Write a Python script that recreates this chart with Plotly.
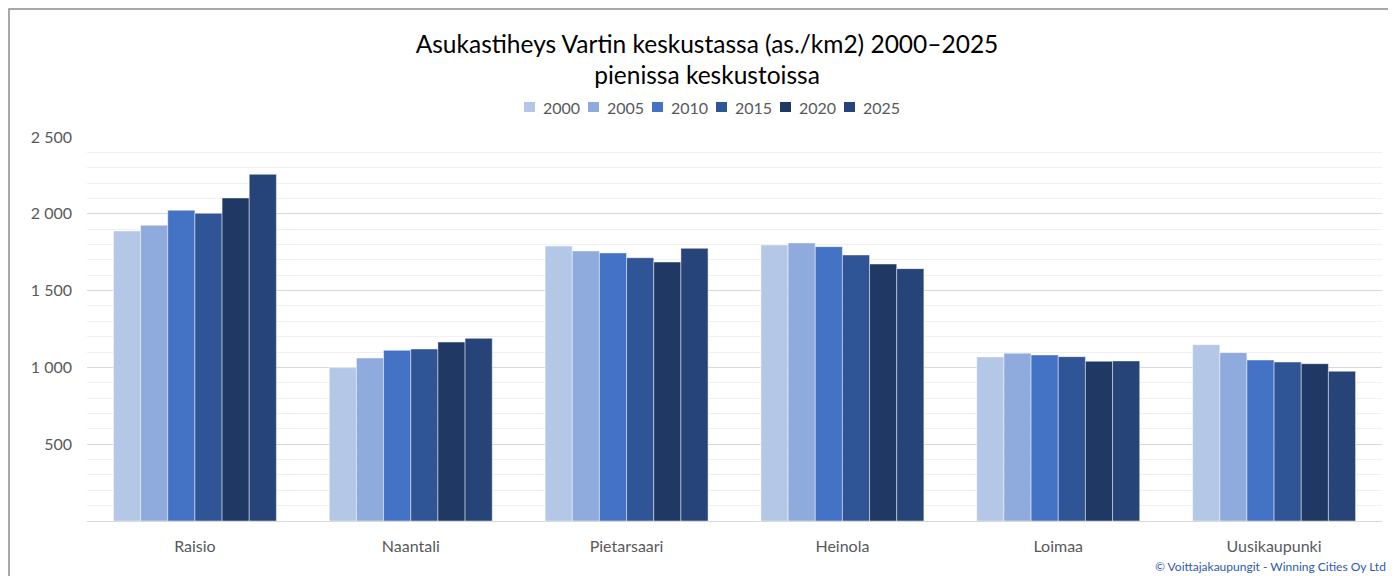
import plotly.graph_objects as go

categories = ["Raisio", "Naantali", "Pietarsaari", "Heinola", "Loimaa", "Uusikaupunki"]
years = ["2000", "2005", "2010", "2015", "2020", "2025"]
values = {
    "2000": [1888, 998, 1790, 1797, 1068, 1148],
    "2005": [1925, 1061, 1758, 1810, 1092, 1096],
    "2010": [2023, 1111, 1745, 1786, 1081, 1048],
    "2015": [2003, 1120, 1714, 1732, 1070, 1035],
    "2020": [2103, 1165, 1686, 1673, 1040, 1024],
    "2025": [2257, 1189, 1775, 1643, 1042, 975],
}
colors = ["#B4C7E7", "#8FAADC", "#4472C4", "#2F5597", "#203864", "#264478"]

FONT = "Lato"

# page body has an 8px margin; figure coordinates below are relative to figure origin
OFF = 8
W, H = 1396 - OFF, 576 - OFF
L, R, T, B = 79, 14, 129, 55
pw = W - L - R
ph = H - T - B


def px_x(x):
    return (x - OFF - L) / pw


def px_y(y):
    return 1 + (T - (y - OFF)) / ph


fig = go.Figure()
for y, c in zip(years, colors):
    fig.add_trace(go.Bar(
        x=categories, y=values[y], name=y, showlegend=False,
        marker=dict(color=c, line=dict(color="rgba(255,255,255,0.45)", width=1)),
    ))

fig.update_layout(
    width=W, height=H,
    margin=dict(l=L, r=R, t=T, b=B),
    paper_bgcolor="white", plot_bgcolor="white",
    barmode="group", bargap=0.245, bargroupgap=0,
    separators=", ",
    font=dict(family=FONT, color="#595959", size=16),
    title=dict(
        text="Asukastiheys Vartin keskustassa (as./km2) 2000–2025<br>pienissa keskustoissa",
        x=px_x(707), xref="paper", xanchor="center",
        y=1 - (52.5 - OFF) / H, yanchor="middle",
        font=dict(family=FONT, size=24.5, color="#000000"),
    ),
    xaxis=dict(
        showline=True, linecolor="#D9D9D9", linewidth=1,
        ticks="", tickfont=dict(family=FONT, size=16, color="#595959"),
        ticklabelstandoff=11,
        fixedrange=True,
    ),
    yaxis=dict(
        range=[0, 2500], tickvals=[500, 1000, 1500, 2000, 2500], tickformat=",d",
        showgrid=True, gridcolor="#D9D9D9", gridwidth=1,
        zeroline=False, showline=False,
        ticks="", tickfont=dict(family=FONT, size=16, color="#595959"),
        ticklabelstandoff=14,
        minor=dict(dtick=100, showgrid=True, gridcolor="#F0F0F0", gridwidth=1),
    ),
)

# custom legend matching the reference spacing
for i, (yr, c) in enumerate(zip(years, colors)):
    sx = 524 + 64 * i
    fig.add_shape(
        type="rect", xref="paper", yref="paper",
        x0=px_x(sx), x1=px_x(sx + 11), y0=px_y(112), y1=px_y(102),
        line=dict(width=0), fillcolor=c,
    )
    fig.add_annotation(
        text=yr, xref="paper", yref="paper",
        x=px_x(sx + 17), xanchor="left", y=px_y(107), yanchor="middle",
        showarrow=False, font=dict(family=FONT, size=16, color="#595959"),
    )

# outer frame (partially visible at left and top)
fig.add_shape(
    type="rect", xref="paper", yref="paper",
    x0=px_x(9), x1=1.1, y0=-0.5, y1=px_y(9),
    line=dict(color="#8C8C8C", width=1.5), fillcolor="rgba(0,0,0,0)", layer="below",
)

fig.add_annotation(
    text="© Voittajakaupungit - Winning Cities Oy Ltd",
    xref="paper", yref="paper",
    x=px_x(1153), xanchor="left",
    y=px_y(566), yanchor="middle",
    showarrow=False,
    font=dict(family=FONT, size=12, color="#2E5BA8"),
)

fig.write_html("out.html")
